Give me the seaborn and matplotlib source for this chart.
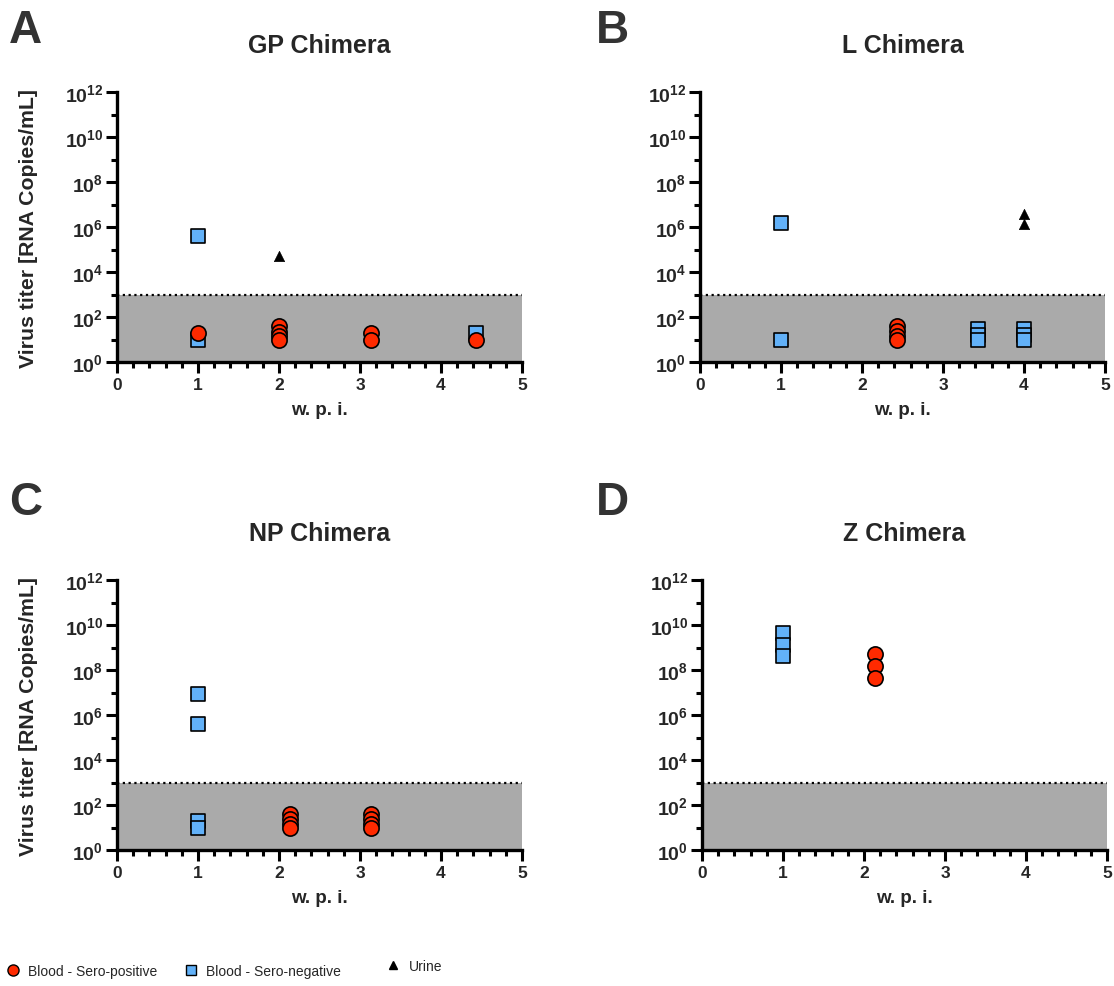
import matplotlib
matplotlib.use("Agg")
import matplotlib.pyplot as plt
import matplotlib.ticker as mticker
from matplotlib.lines import Line2D
import seaborn as sns
import pandas as pd
import numpy as np

sns.set_theme(style="ticks")
plt.rcParams['font.family'] = ['Liberation Sans', 'DejaVu Sans']
plt.rcParams['mathtext.fontset'] = 'custom'
plt.rcParams['mathtext.rm'] = 'Liberation Sans:bold'
plt.rcParams['mathtext.bf'] = 'Liberation Sans:bold'
plt.rcParams['mathtext.it'] = 'Liberation Sans:bold'

ROJO = '#FF2A00'
AZUL = '#62B1F8'
GRIS = '#AAAAAA'

# ---- datos (semanas post infeccion, copias/mL) ----
paneles = ['A', 'B', 'C', 'D']
titulos = ['GP Chimera', 'L Chimera', 'NP Chimera', 'Z Chimera']

pos_x = {
    'A': [1, 2, 2, 2, 2, 3.14, 3.14, 4.43],
    'B': [2.43, 2.43, 2.43, 2.43],
    'C': [2.14, 2.14, 2.14, 2.14, 3.14, 3.14, 3.14, 3.14],
    'D': [2.14, 2.14, 2.14],
}
pos_y = {
    'A': [20, 40, 22, 15, 10, 20, 10, 10],
    'B': [40, 24, 15, 10],
    'C': [40, 24, 15, 10, 40, 24, 15, 10],
    'D': [5e8, 1.5e8, 4.2e7],
}
neg_x = {
    'A': [1, 1, 4.43],
    'B': [1, 1, 3.43, 3.43, 3.43, 4, 4, 4],
    'C': [1, 1, 1, 1],
    'D': [1, 1, 1],
}
neg_y = {
    'A': [4e5, 10, 20],
    'B': [1.5e6, 10, 30, 16, 10, 30, 16, 10],
    'C': [8.5e6, 4e5, 20, 10],
    'D': [4.2e9, 1.3e9, 4.2e8],
}
orina_x = {'A': [2], 'B': [4, 4], 'C': [], 'D': []}
orina_y = {'A': [5e4], 'B': [3.6e6, 1.4e6], 'C': [], 'D': []}

limite_deteccion = 1e3

# posiciones de los ejes en pixeles (izq, abajo)
W, H = 1114, 987
pos_ejes = {'A': (117, 363), 'B': (700, 363), 'C': (117, 851), 'D': (702, 851)}
ancho_px, alto_px = 405, 270

fig = plt.figure(figsize=(W / 100, H / 100), dpi=100)


def formato_potencia(v, pos):
    e = int(round(np.log10(v)))
    return r'$10^{%d}$' % e


for i, p in enumerate(paneles):
    x0, y0 = pos_ejes[p]
    ax = fig.add_axes([x0 / W, 1 - y0 / H, ancho_px / W, alto_px / H])

    ax.axhspan(1, limite_deteccion, color=GRIS, lw=0, zorder=0)
    ax.axhline(limite_deteccion, color='black', ls=(0, (1, 1.6)), lw=1.6, zorder=1)

    df_pos = pd.DataFrame({'x': pos_x[p], 'y': pos_y[p]})
    df_neg = pd.DataFrame({'x': neg_x[p], 'y': neg_y[p]})
    df_ori = pd.DataFrame({'x': orina_x[p], 'y': orina_y[p]})

    if len(df_neg):
        sns.scatterplot(data=df_neg, x='x', y='y', ax=ax, marker='s', s=100,
                        color=AZUL, edgecolor='black', linewidth=1.2, zorder=3)
    if len(df_pos):
        sns.scatterplot(data=df_pos, x='x', y='y', ax=ax, marker='o', s=120,
                        color=ROJO, edgecolor='black', linewidth=1.2, zorder=4)
    if len(df_ori):
        sns.scatterplot(data=df_ori, x='x', y='y', ax=ax, marker='^', s=55,
                        color='black', edgecolor='black', linewidth=0.5, zorder=4)

    ax.set_yscale('log')
    ax.set_ylim(1, 1e12)
    ax.set_xlim(0, 5)
    ax.yaxis.set_major_locator(mticker.FixedLocator([10.0 ** k for k in range(0, 13, 2)]))
    ax.yaxis.set_minor_locator(mticker.FixedLocator([10.0 ** k for k in range(1, 12, 2)]))
    ax.yaxis.set_major_formatter(mticker.FuncFormatter(formato_potencia))
    ax.yaxis.set_minor_formatter(mticker.NullFormatter())
    ax.xaxis.set_major_locator(mticker.MultipleLocator(1))
    ax.xaxis.set_minor_locator(mticker.MultipleLocator(0.2))

    for s in ['top', 'right']:
        ax.spines[s].set_visible(False)
    for s in ['left', 'bottom']:
        ax.spines[s].set_linewidth(2.4)
        ax.spines[s].set_color('black')
    ax.tick_params(which='major', length=8, width=2.2, color='black', pad=3)
    ax.tick_params(which='minor', length=4.5, width=2.2, color='black')
    ax.tick_params(axis='x', labelsize=12.5)
    ax.tick_params(axis='y', labelsize=14, pad=2)
    for t in ax.get_xticklabels():
        t.set_fontweight('bold')
    ax.set_xlabel('w. p. i.', fontsize=13.5, fontweight='bold', labelpad=6)
    if p in ('A', 'C'):
        ax.set_ylabel('Virus titer [RNA Copies/mL]', fontsize=15.3, fontweight='bold')
        ax.yaxis.set_label_coords((38 - x0) / ancho_px, 0.5)
    else:
        ax.set_ylabel('')
    base_titulo = 53 if p in 'AB' else 541
    ax.set_title(titulos[i], fontsize=18, fontweight='bold', pad=0,
                 y=1 + (y0 - alto_px - base_titulo) / alto_px)

    lx = 9 if p in 'AC' else 596
    ly = 31 if p in 'AB' else 503
    fig.text(lx / W, 1 - ly / H, p, fontsize=33, fontweight='bold', color='#333333',
             ha='left', va='center')

# leyenda inferior
fuente_ley = {'family': 'Liberation Sans', 'size': 10}

h_pos = Line2D([], [], marker='o', ls='', markersize=8, markerfacecolor=ROJO,
               markeredgecolor='black', markeredgewidth=1)
h_neg = Line2D([], [], marker='s', ls='', markersize=7.5, markerfacecolor=AZUL,
               markeredgecolor='black', markeredgewidth=1)
h_ori = Line2D([], [], marker='^', ls='', markersize=6, color='black')

for h, txt, xpx, ypx in [(h_pos, 'Blood - Sero-positive', 2, 972),
                          (h_neg, 'Blood - Sero-negative', 180, 972),
                          (h_ori, 'Urine', 382, 967)]:
    fig.legend([h], [txt], loc='center left', bbox_to_anchor=(xpx / W, 1 - ypx / H),
               frameon=False, prop=fuente_ley, handletextpad=0.6, handlelength=1.0,
               borderaxespad=0, borderpad=0.3)

fig.savefig('out.png', dpi=100)
